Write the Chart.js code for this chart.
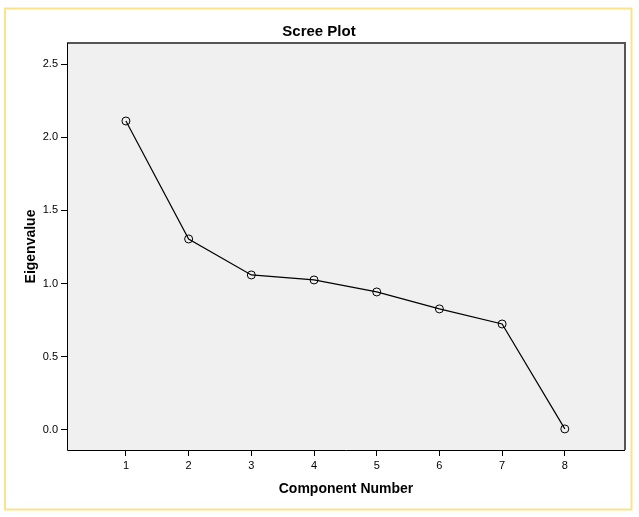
<!DOCTYPE html>
<html>
<head>
<meta charset="utf-8">
<script src="https://cdn.jsdelivr.net/npm/chart.js@4/dist/chart.umd.min.js"></script>
<style>
  html, body { margin: 0; padding: 0; background: #ffffff; }
  #wrap { width: 639px; height: 517px; position: relative; }
</style>
</head>
<body>
<div id="wrap"><canvas id="c" width="639" height="517"></canvas></div>
<script>
// ---- data ----
const components = [1, 2, 3, 4, 5, 6, 7, 8];
const eigenvalues = [2.111, 1.305, 1.059, 1.025, 0.943, 0.827, 0.724, 0.007];
const yTickValues = [0.0, 0.5, 1.0, 1.5, 2.0, 2.5];
const chartTitle = 'Scree Plot';
const xTitle = 'Component Number';
const yTitle = 'Eigenvalue';

const FONT = '"Liberation Sans", Arial, sans-serif';

const frame = {
  id: 'frame',
  beforeDraw(chart) {
    const { ctx, chartArea: a } = chart;
    ctx.save();
    ctx.fillStyle = '#ffffff';
    ctx.fillRect(0, 0, chart.width, chart.height);
    ctx.strokeStyle = '#FAE38C';
    ctx.lineWidth = 2;
    ctx.strokeRect(5, 8.5, 626.5, 501);
    ctx.fillStyle = '#F0F0F0';
    ctx.fillRect(a.left, a.top, a.right - a.left, a.bottom - a.top);
    ctx.fillStyle = '#000000';
    ctx.font = 'bold 15px ' + FONT;
    ctx.textAlign = 'center';
    ctx.textBaseline = 'alphabetic';
    ctx.fillText(chartTitle, 319, 36);
    ctx.restore();
  },
  afterDraw(chart) {
    const { ctx, chartArea: a } = chart;
    ctx.save();
    ctx.strokeStyle = '#555555';
    ctx.lineWidth = 2;
    ctx.beginPath();
    ctx.moveTo(a.left, a.top);
    ctx.lineTo(a.right, a.top);
    ctx.lineTo(a.right, a.bottom);
    ctx.stroke();
    ctx.strokeStyle = '#000000';
    ctx.lineWidth = 1;
    ctx.beginPath();
    ctx.moveTo(a.left + 0.5, a.top);
    ctx.lineTo(a.left + 0.5, a.bottom + 0.5);
    ctx.lineTo(a.right, a.bottom + 0.5);
    ctx.stroke();
    ctx.restore();
  }
};

new Chart(document.getElementById('c'), {
  type: 'scatter',
  data: {
    datasets: [{
      data: components.map((c, i) => ({ x: c, y: eigenvalues[i] })),
      showLine: true,
      borderColor: '#000000',
      borderWidth: 1.2,
      pointRadius: 4,
      pointHoverRadius: 4,
      pointBorderWidth: 1,
      pointBorderColor: '#000000',
      pointBackgroundColor: 'rgba(0,0,0,0)',
      tension: 0
    }]
  },
  options: {
    responsive: false,
    animation: false,
    events: [],
    layout: { padding: { top: 43, right: 14, left: 0, bottom: 0 } },
    plugins: {
      legend: { display: false },
      title: { display: false },
      tooltip: { enabled: false }
    },
    scales: {
      x: {
        type: 'linear',
        min: 0.06,
        max: 8.96,
        afterBuildTicks(scale) { scale.ticks = components.map(v => ({ value: v })); },
        afterFit(scale) { scale.height = 67; },
        grid: { drawOnChartArea: false, drawTicks: true, tickLength: 6, color: '#000000', tickWidth: 1 },
        border: { display: false },
        ticks: { color: '#000000', font: { family: FONT, size: 11 }, padding: 3, callback: v => String(v) },
        title: { display: true, text: xTitle, color: '#000000', font: { family: FONT, size: 14, weight: 'bold' }, padding: { top: 0, bottom: 19 } }
      },
      y: {
        type: 'linear',
        min: -0.137,
        max: 2.644,
        afterBuildTicks(scale) { scale.ticks = yTickValues.map(v => ({ value: v })); },
        afterFit(scale) { scale.width = 67; },
        grid: { drawOnChartArea: false, drawTicks: true, tickLength: 6, color: '#000000', tickWidth: 1 },
        border: { display: false },
        ticks: { color: '#000000', font: { family: FONT, size: 11 }, padding: 3, callback: v => Number(v).toFixed(1) },
        title: { display: true, text: yTitle, color: '#000000', font: { family: FONT, size: 14, weight: 'bold' }, padding: { top: 23, bottom: 0 } }
      }
    }
  },
  plugins: [frame]
});
</script>
</body>
</html>
